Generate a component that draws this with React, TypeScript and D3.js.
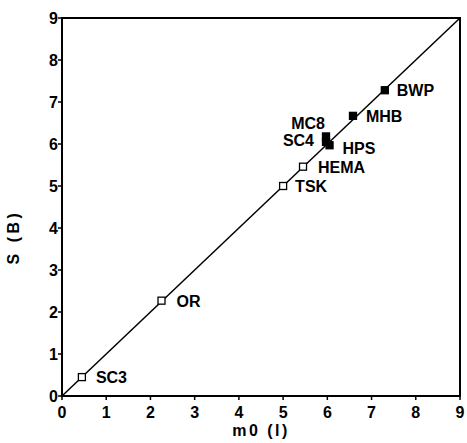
import React from "react";
import * as d3 from "d3";

// Sample labels with their m0 (l) and S (B) values
const names = ["SC3", "OR", "TSK", "HEMA", "SC4", "MC8", "HPS", "MHB", "BWP"];
const m0Values = [0.45, 2.25, 5.0, 5.45, 5.97, 5.97, 6.05, 6.58, 7.3];
const sValues = [0.45, 2.27, 5.0, 5.46, 6.05, 6.18, 5.97, 6.67, 7.28];
const filled = [false, false, false, false, true, true, true, true, true];
const tickValues = [0, 1, 2, 3, 4, 5, 6, 7, 8, 9];

const W = 467;
const H = 443;
const left = 62;
const right = 460;
const top = 18;
const bottom = 396;

export default function App() {
  const x = d3.scaleLinear().domain([0, 9]).range([left, right]);
  const y = d3.scaleLinear().domain([0, 9]).range([bottom, top]);
  const font = "'Liberation Sans', Arial, sans-serif";
  const diag = d3.line<number>().x((d) => x(d)).y((d) => y(d))([0, 9]) || "";

  // label placement relative to the point (dx, dy, anchor)
  const labelPos: Record<string, [number, number, string]> = {
    SC3: [14, 6, "start"],
    OR: [15, 6, "start"],
    TSK: [12, 6, "start"],
    HEMA: [15, 6, "start"],
    SC4: [-12, 4, "end"],
    MC8: [-1, -7, "end"],
    HPS: [13, 9, "start"],
    MHB: [13, 6, "start"],
    BWP: [12, 6, "start"],
  };

  return (
    <svg width={W} height={H} style={{ position: "absolute", left: 0, top: 0, background: "#fff" }}>
      <rect x={0} y={0} width={W} height={H} fill="#fff" />
      {/* frame */}
      <rect x={left} y={top} width={right - left} height={bottom - top} fill="none" stroke="#000" strokeWidth={2} />
      {/* ticks */}
      {tickValues.map((t) => (
        <g key={"x" + t}>
          <line x1={x(t)} x2={x(t)} y1={bottom} y2={bottom + 4} stroke="#000" strokeWidth={1.5} />
          <text x={x(t)} y={bottom + 22} textAnchor="middle" fontFamily={font} fontWeight="bold" fontSize={16}>
            {t}
          </text>
        </g>
      ))}
      {tickValues.map((t) => (
        <g key={"y" + t}>
          <line x1={left - 4} x2={left} y1={y(t)} y2={y(t)} stroke="#000" strokeWidth={1.5} />
          <text x={left - 4} y={y(t) + 6} textAnchor="end" fontFamily={font} fontWeight="bold" fontSize={16}>
            {t}
          </text>
        </g>
      ))}
      {/* identity line */}
      <path d={diag} stroke="#000" strokeWidth={1.5} fill="none" />
      {/* points */}
      {names.map((n, i) => {
        const cx = x(m0Values[i]);
        const cy = y(sValues[i]);
        const s = 7;
        return (
          <rect
            key={n}
            x={cx - s / 2}
            y={cy - s / 2}
            width={s}
            height={s}
            fill={filled[i] ? "#000" : "#fff"}
            stroke="#000"
            strokeWidth={1.3}
          />
        );
      })}
      {names.map((n, i) => {
        const [dx, dy, anchor] = labelPos[n];
        return (
          <text
            key={"l" + n}
            x={x(m0Values[i]) + dx}
            y={y(sValues[i]) + dy}
            textAnchor={anchor as any}
            fontFamily={font}
            fontWeight="bold"
            fontSize={16}
          >
            {n}
          </text>
        );
      })}
      {/* axis titles */}
      <text x={261} y={436} textAnchor="middle" fontFamily={font} fontWeight="bold" fontSize={16} letterSpacing={2.5}>
        m0 (l)
      </text>
      <text
        transform={`translate(19, ${(top + bottom) / 2 + 30}) rotate(-90)`}
        textAnchor="middle"
        fontFamily={font}
        fontWeight="bold"
        fontSize={16}
        letterSpacing={3.5}
      >
        S (B)
      </text>
    </svg>
  );
}
